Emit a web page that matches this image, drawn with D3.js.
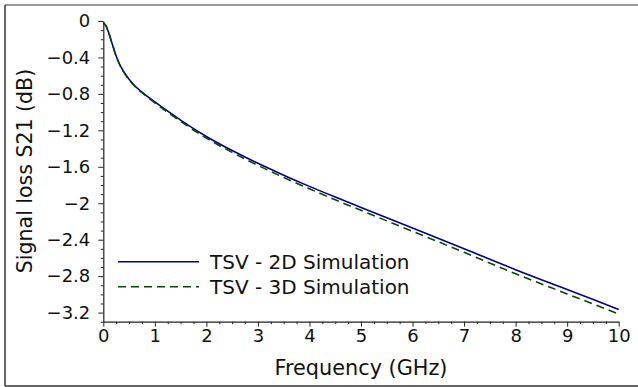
<!DOCTYPE html>
<html>
<head>
<meta charset="utf-8">
<script src="https://cdn.jsdelivr.net/npm/d3@7"></script>
<style>
  body { margin: 0; background: #fff; }
  svg { display: block; font-family: "DejaVu Sans", sans-serif; }
</style>
</head>
<body>
<svg id="chart"></svg>
<script>
// Data
var freq  = [0, 0.05, 0.1, 0.15, 0.2, 0.25, 0.3, 0.4, 0.5, 0.6, 0.75, 1, 1.25, 1.5, 2, 2.5, 3, 3.5, 4, 4.5, 5, 6, 7, 8, 9, 10];
var s21_2d = [-0.02, -0.05, -0.12, -0.21, -0.30, -0.385, -0.455, -0.56, -0.64, -0.705, -0.78, -0.888, -0.99, -1.087, -1.267, -1.422, -1.562, -1.692, -1.815, -1.932, -2.046, -2.271, -2.499, -2.729, -2.947, -3.165];
var s21_3d = [-0.02, -0.05, -0.12, -0.21, -0.30, -0.387, -0.458, -0.564, -0.645, -0.711, -0.787, -0.898, -1.002, -1.102, -1.285, -1.442, -1.584, -1.717, -1.842, -1.962, -2.078, -2.308, -2.539, -2.774, -2.995, -3.215];
var xTicks = [0, 1, 2, 3, 4, 5, 6, 7, 8, 9, 10];
var yTicks = [0, -0.4, -0.8, -1.2, -1.6, -2, -2.4, -2.8, -3.2];
var seriesNames = ["TSV - 2D Simulation", "TSV - 3D Simulation"];

var dimensions = {
    width: 638,
    height: 387,
    margin: { top: 21, bottom: 65.3, left: 103.3, right: 19.3 }
};

var svg = d3.select("#chart")
    .attr("width", dimensions.width)
    .attr("height", dimensions.height);

// outer frame
svg.append("line").attr("x1", 5).attr("x2", 638).attr("y1", 5).attr("y2", 5)
    .attr("stroke", "#777").attr("stroke-width", 1.5);
svg.append("line").attr("x1", 5).attr("x2", 5).attr("y1", 5).attr("y2", 386)
    .attr("stroke", "#333").attr("stroke-width", 1.5);
svg.append("line").attr("x1", 5).attr("x2", 638).attr("y1", 386).attr("y2", 386)
    .attr("stroke", "#333").attr("stroke-width", 1.5);

var xScale = d3.scaleLinear()
    .domain([0, 10])
    .range([dimensions.margin.left, dimensions.width - dimensions.margin.right]);

var yScale = d3.scaleLinear()
    .domain([-3.3, 0])
    .range([dimensions.height - dimensions.margin.bottom, dimensions.margin.top]);

var fmt = function(d) { return d3.format("")(d).replace("-", "\u2212"); };

// minor ticks
var xMinor = d3.range(0, 10.001, 0.25).filter(d => Math.abs(d - Math.round(d)) > 1e-6);
var yMinor = d3.range(-3.3, 0.001, 0.1).filter(d => Math.abs(d * 10 / 4 - Math.round(d * 10 / 4)) > 1e-6);

svg.append("g")
    .attr("transform", `translate(0, ${yScale(-3.3)})`)
    .call(d3.axisBottom(xScale).tickValues(xMinor).tickSize(2.5).tickFormat(""))
    .call(g => g.select(".domain").remove());

svg.append("g")
    .attr("transform", `translate(${xScale(0)}, 0)`)
    .call(d3.axisLeft(yScale).tickValues(yMinor).tickSize(2.5).tickFormat(""))
    .call(g => g.select(".domain").remove());

// major axes
var xAxis = svg.append("g")
    .attr("transform", `translate(0, ${yScale(-3.3)})`)
    .call(d3.axisBottom(xScale).tickValues(xTicks).tickSize(5).tickSizeOuter(0).tickPadding(3).tickFormat(fmt));
xAxis.selectAll("text").attr("font-size", "18px").attr("fill", "#111").attr("font-family", "DejaVu Sans");

var yAxis = svg.append("g")
    .attr("transform", `translate(${xScale(0)}, 0)`)
    .call(d3.axisLeft(yScale).tickValues(yTicks).tickSize(5).tickSizeOuter(0).tickPadding(8).tickFormat(fmt));
yAxis.selectAll("text").attr("font-size", "18px").attr("fill", "#111").attr("font-family", "DejaVu Sans");

svg.selectAll(".domain").attr("stroke", "#222").attr("stroke-width", 1.2);
svg.selectAll(".tick line").attr("stroke", "#222").attr("stroke-width", 1);

// axis labels
svg.append("text")
    .attr("x", (xScale(0) + xScale(10)) / 2)
    .attr("y", 375)
    .attr("text-anchor", "middle")
    .attr("font-size", "20.8px")
    .attr("fill", "#111")
    .text("Frequency (GHz)");

svg.append("text")
    .attr("transform", "translate(32, 171) rotate(-90)")
    .attr("text-anchor", "middle")
    .attr("font-size", "20.5px")
    .attr("fill", "#111")
    .text("Signal loss S21 (dB)");

// lines
var line = d3.line()
    .x((d, i) => xScale(freq[i]))
    .y(d => yScale(d))
    .curve(d3.curveMonotoneX);

svg.append("path")
    .datum(s21_2d)
    .attr("d", line)
    .attr("fill", "none")
    .attr("stroke", "#00008b")
    .attr("stroke-width", 1.6);

svg.append("path")
    .datum(s21_3d)
    .attr("d", line)
    .attr("fill", "none")
    .attr("stroke", "#004d00")
    .attr("stroke-width", 1.6)
    .attr("stroke-dasharray", "8,5");

// legend
var legend = svg.selectAll(".legend")
    .data(seriesNames)
    .enter()
    .append("g")
    .attr("class", "legend")
    .attr("transform", (d, i) => `translate(118, ${261.7 + i * 25})`);

legend.append("line")
    .attr("x1", 0).attr("x2", 81)
    .attr("y1", 0).attr("y2", 0)
    .attr("stroke", (d, i) => i === 0 ? "#00008b" : "#004d00")
    .attr("stroke-width", 1.6)
    .attr("stroke-dasharray", (d, i) => i === 0 ? null : "8,5");

legend.append("text")
    .attr("x", 92)
    .attr("y", 0)
    .attr("dy", "0.35em")
    .attr("font-size", "20px")
    .attr("fill", "#111")
    .text(d => d);
</script>
</body>
</html>
